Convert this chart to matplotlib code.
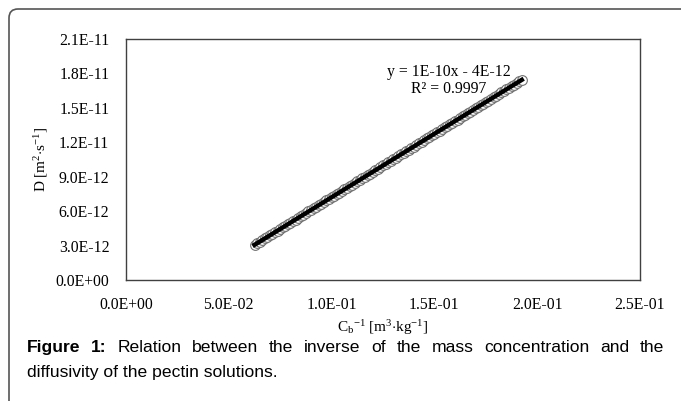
import matplotlib.pyplot as plt
import numpy as np
from matplotlib.patches import FancyBboxPatch
from matplotlib.ticker import FuncFormatter

plt.rcParams['font.family'] = ['Liberation Serif', 'DejaVu Serif']
plt.rcParams['mathtext.fontset'] = 'custom'
plt.rcParams['mathtext.rm'] = 'Liberation Serif'
plt.rcParams['mathtext.it'] = 'Liberation Serif:italic'

# inverse mass concentration [m3/kg]
inv_conc = [0.06250, 0.06375, 0.06500, 0.06625, 0.06750, 0.06875, 0.07000,
            0.07125, 0.07250, 0.07375, 0.07500, 0.07625, 0.07750, 0.07875,
            0.08000, 0.08125, 0.08250, 0.08375, 0.08500, 0.08625, 0.08750,
            0.08875, 0.09000, 0.09125, 0.09250, 0.09375, 0.09500, 0.09625,
            0.09750, 0.09875, 0.10000, 0.10125, 0.10250, 0.10375, 0.10500,
            0.10625, 0.10750, 0.10875, 0.11000, 0.11125, 0.11250, 0.11375,
            0.11500, 0.11625, 0.11750, 0.11875, 0.12000, 0.12125, 0.12250,
            0.12375, 0.12500, 0.12625, 0.12750, 0.12875, 0.13000, 0.13125,
            0.13250, 0.13375, 0.13500, 0.13625, 0.13750, 0.13875, 0.14000,
            0.14125, 0.14250, 0.14375, 0.14500, 0.14625, 0.14750, 0.14875,
            0.15000, 0.15125, 0.15250, 0.15375, 0.15500, 0.15625, 0.15750,
            0.15875, 0.16000, 0.16125, 0.16250, 0.16375, 0.16500, 0.16625,
            0.16750, 0.16875, 0.17000, 0.17125, 0.17250, 0.17375, 0.17500,
            0.17625, 0.17750, 0.17875, 0.18000, 0.18125, 0.18250, 0.18375,
            0.18500, 0.18625, 0.18750, 0.18875, 0.19000, 0.19125, 0.19250]
# diffusivity [1e-12 m2/s]
diff = [3.06, 3.20, 3.34, 3.48, 3.62, 3.75, 3.89,
        4.03, 4.17, 4.31, 4.45, 4.58, 4.72, 4.86,
        5.00, 5.14, 5.27, 5.41, 5.55, 5.69, 5.83,
        5.97, 6.10, 6.24, 6.38, 6.52, 6.66, 6.80,
        6.93, 7.07, 7.21, 7.35, 7.49, 7.62, 7.76,
        7.90, 8.04, 8.18, 8.32, 8.45, 8.59, 8.73,
        8.87, 9.01, 9.15, 9.28, 9.42, 9.56, 9.70,
        9.84, 9.98, 10.11, 10.25, 10.39, 10.53, 10.67,
        10.80, 10.94, 11.08, 11.22, 11.36, 11.50, 11.63,
        11.77, 11.91, 12.05, 12.19, 12.33, 12.46, 12.60,
        12.74, 12.88, 13.02, 13.15, 13.29, 13.43, 13.57,
        13.71, 13.85, 13.98, 14.12, 14.26, 14.40, 14.54,
        14.68, 14.81, 14.95, 15.09, 15.23, 15.37, 15.51,
        15.64, 15.78, 15.92, 16.06, 16.20, 16.34, 16.47,
        16.61, 16.75, 16.89, 17.03, 17.16, 17.30, 17.44]

caption_line1 = 'Relation between the inverse of the mass concentration and the'
caption_line2 = 'diffusivity of the pectin solutions.'

x = np.array(inv_conc)
y = np.array(diff) * 1e-12

fig = plt.figure(figsize=(6.81, 4.01), dpi=100)

# outer frame with rounded corner
frame = FancyBboxPatch((0.09, -0.5), 7.5, 4.01 - 0.09 + 0.5,
                       boxstyle='round,pad=0,rounding_size=0.09',
                       transform=fig.dpi_scale_trans, fill=False,
                       edgecolor='#555555', linewidth=1.2)
fig.patches.append(frame)

ax = fig.add_axes([126 / 681, 1 - 280 / 401, 514 / 681, 241 / 401])

ax.plot(x, y, linestyle='none', marker='o', markersize=7,
        markerfacecolor='white', markeredgecolor='#707070',
        markeredgewidth=0.8)

coef = np.polyfit(x, y, 1)
xs = np.array([x.min(), x.max()])
ax.plot(xs, np.polyval(coef, xs), color='black', linewidth=3.2)

ax.text(0.157, 1.738e-11, 'y = 1E-10x - 4E-12\nR² = 0.9997', ha='center',
        va='center', fontsize=11.3, linespacing=1.15,
        multialignment='center')

ax.set_xlim(0, 0.25)
ax.set_ylim(0, 2.1e-11)
ax.set_xticks(np.arange(0, 0.2501, 0.05))
ax.set_yticks(np.arange(0, 2.11e-11, 3e-12))
fmt = FuncFormatter(lambda v, p: '%.1E' % v)
ax.xaxis.set_major_formatter(fmt)
ax.yaxis.set_major_formatter(fmt)
ax.tick_params(length=0, labelsize=11.3, pad=12)
for s in ax.spines.values():
    s.set_color('#404040')
    s.set_linewidth(1.0)

ax.set_xlabel(r'C$_{\rm b}$$^{-1}$ [m$^{3}$$\cdot$kg$^{-1}$]', fontsize=11,
              labelpad=4)
ax.set_ylabel(r'D [m$^{2}$$\cdot$s$^{-1}$]', fontsize=11, labelpad=4)

# caption, first line justified between the two margins
cap_size = 12.6
y1 = 1 - 352 / 401
y2 = 1 - 377 / 401
left, right = 27 / 681, 664 / 681
words = [('Figure', 'bold'), ('1:', 'bold')] + \
        [(w, 'normal') for w in caption_line1.split()]
renderer = fig.canvas.get_renderer()
texts = []
for w, wt in words:
    t = fig.text(0, y1, w, fontsize=cap_size, fontweight=wt,
                 family='Liberation Sans', va='baseline')
    texts.append(t)
widths = [t.get_window_extent(renderer).width / fig.bbox.width for t in texts]
gap = (right - left - sum(widths)) / (len(texts) - 1)
pos = left
for t, wd in zip(texts, widths):
    t.set_x(pos)
    pos += wd + gap
fig.text(left, y2, caption_line2, fontsize=cap_size,
         family='Liberation Sans', va='baseline')

fig.savefig('out.png', dpi=100)
